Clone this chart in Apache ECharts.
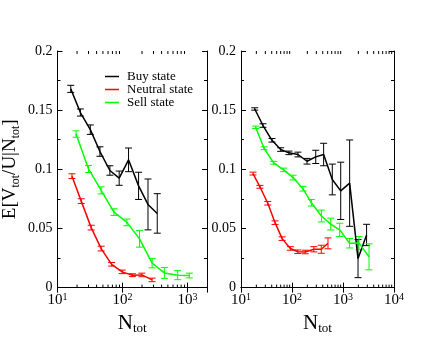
<!DOCTYPE html>
<html>
<head>
<meta charset="utf-8">
<script src="https://cdn.jsdelivr.net/npm/echarts@6/dist/echarts.min.js"></script>
<style>
  html, body { margin: 0; padding: 0; background: #fff; }
  #grafico { width: 440px; height: 340px; }
</style>
</head>
<body>
<div id="grafico"></div>
<script>
// Datos (N_tot, valor, error)
// Panel izquierdo
const buyL_x = [16, 22.5, 32, 45, 64, 89, 124, 177, 247, 343];
const buyL_y = [0.168, 0.148, 0.1335, 0.115, 0.099, 0.0925, 0.108, 0.086, 0.0703, 0.0627];
const buyL_err = [0.003, 0.003, 0.004, 0.004, 0.004, 0.006, 0.01, 0.0115, 0.0215, 0.0167];

const neutralL_x = [16.7, 23.2, 33, 47, 68, 99, 142, 199, 286];
const neutralL_y = [0.0942, 0.0731, 0.0507, 0.033, 0.0197, 0.0133, 0.0105, 0.0107, 0.0065];
const neutralL_err = [0.002, 0.002, 0.002, 0.002, 0.0015, 0.0015, 0.0012, 0.0015, 0.0015];

const sellL_x = [19.3, 30, 47, 74, 117, 183, 286, 442, 708, 1070];
const sellL_y = [0.1298, 0.1003, 0.0822, 0.0638, 0.0551, 0.0412, 0.0207, 0.0124, 0.0105, 0.0102];
const sellL_err = [0.0027, 0.003, 0.003, 0.0028, 0.0028, 0.007, 0.004, 0.0046, 0.0038, 0.002];

// Panel derecho
const buyR_x = [18.6, 27, 40.5, 60, 87, 131, 197, 292, 417, 617, 902, 1350, 1970, 2900];
const buyR_y = [0.151, 0.137, 0.1245, 0.1167, 0.1139, 0.1125, 0.1068, 0.1105, 0.1125, 0.0914, 0.0818, 0.0883, 0.0245, 0.0445];
const buyR_err = [0.001, 0.0015, 0.0015, 0.0015, 0.0015, 0.002, 0.0024, 0.0056, 0.0095, 0.013, 0.0242, 0.0365, 0.0161, 0.009];

const neutralR_x = [17.2, 23.5, 33.5, 46.5, 64, 93, 130, 182, 268, 375, 508];
const neutralR_y = [0.0964, 0.0852, 0.0713, 0.0549, 0.0414, 0.0331, 0.0303, 0.0301, 0.0324, 0.0324, 0.0374];
const neutralR_err = [0.0012, 0.0012, 0.0015, 0.0015, 0.0015, 0.0015, 0.0015, 0.0015, 0.0022, 0.0034, 0.0046];

const sellR_x = [19.4, 28.3, 43.7, 68.7, 105, 164, 240, 377, 575, 861, 1350, 2060, 3240];
const sellR_y = [0.1355, 0.1178, 0.1055, 0.0995, 0.093, 0.0836, 0.0717, 0.0605, 0.0537, 0.0488, 0.0375, 0.0376, 0.026];
const sellR_err = [0.001, 0.0012, 0.0012, 0.0015, 0.002, 0.002, 0.0028, 0.005, 0.005, 0.0056, 0.004, 0.0056, 0.011];

// Marcas menores del eje logarítmico
const minorTicksL = [20, 30, 40, 50, 60, 70, 80, 90, 200, 300, 400, 500, 600, 700, 800, 900];
const minorTicksR = [20, 30, 40, 50, 60, 70, 80, 90, 200, 300, 400, 500, 600, 700, 800, 900,
                     2000, 3000, 4000, 5000, 6000, 7000, 8000, 9000];

const serieNames = ['Buy state', 'Neutral state', 'Sell state'];
const FONT = 'Liberation Serif';
const BLACK = '#000000', RED = '#ff0000', GREEN = '#00ff00';

const chartDom = document.getElementById('grafico');
const myChart = echarts.init(chartDom);

const zip = (xs, ys) => xs.map((x, i) => [x, ys[i]]);
const zip3 = (xs, ys, es) => xs.map((x, i) => [x, ys[i], es[i]]);

function isPow10(v) {
    const l = Math.log10(v);
    return Math.abs(l - Math.round(l)) < 1e-6;
}

// Eje X inferior (log)
function xBottom(gridIndex, max) {
    return {
        type: 'log', logBase: 10, gridIndex: gridIndex, position: 'bottom',
        min: 10, max: max,
        axisLine: { lineStyle: { color: '#000', width: 1 } },
        axisTick: { inside: true, length: 5, lineStyle: { color: '#000' } },
        splitLine: { show: false },
        axisLabel: {
            margin: 5, color: '#000', fontFamily: FONT, fontSize: 15,
            showMinLabel: true, showMaxLabel: true,
            formatter: v => isPow10(v) ? '10{sup|' + Math.round(Math.log10(v)) + '}' : '',
            rich: { sup: { fontSize: 10, fontFamily: FONT, color: '#000', verticalAlign: 'top', lineHeight: 8 } }
        },
        name: '{b|N}{s|tot}',
        nameLocation: 'middle', nameGap: 21,
        nameTextStyle: {
            rich: {
                b: { fontSize: 21, fontFamily: FONT, color: '#000', lineHeight: 24 },
                s: { fontSize: 13, fontFamily: FONT, color: '#000', verticalAlign: 'bottom', lineHeight: 6 }
            }
        }
    };
}

// Eje X superior (solo marcas)
function xTop(gridIndex, max) {
    return {
        type: 'log', logBase: 10, gridIndex: gridIndex, position: 'top',
        min: 10, max: max,
        axisLine: { lineStyle: { color: '#000', width: 1 } },
        axisTick: { inside: true, length: 5, lineStyle: { color: '#000' } },
        splitLine: { show: false },
        axisLabel: { show: false }
    };
}

function yAxis(gridIndex, position, withLabels, withName) {
    const ax = {
        type: 'value', gridIndex: gridIndex, position: position,
        min: 0, max: 0.2, interval: 0.05,
        axisLine: { show: true, lineStyle: { color: '#000', width: 1 } },
        axisTick: { show: true, inside: true, length: 5, lineStyle: { color: '#000' } },
        minorTick: { show: true, splitNumber: 2, length: 3, lineStyle: { color: '#000' } },
        splitLine: { show: false },
        axisLabel: { show: withLabels, margin: 5, color: '#000', fontFamily: FONT, fontSize: 14 }
    };
    if (withName) {
        ax.name = '{b|E[V}{s|tot}{b|/U|N}{s|tot}{b|]}';
        ax.nameLocation = 'middle';
        ax.nameGap = 36;
        ax.nameRotate = 90;
        ax.nameTextStyle = {
            rich: {
                b: { fontSize: 19, fontFamily: FONT, color: '#000', lineHeight: 22 },
                s: { fontSize: 12, fontFamily: FONT, color: '#000', verticalAlign: 'bottom', lineHeight: 6 }
            }
        };
    }
    return ax;
}

function lineSerie(name, data, color, xi, yi) {
    return {
        type: 'line', name: name, data: data,
        xAxisIndex: xi, yAxisIndex: yi,
        symbol: 'none', smooth: false,
        lineStyle: { color: color, width: 1.5 },
        itemStyle: { color: color },
        z: 3
    };
}

// Barras de error con tapas
function errorSerie(data, color, xi, yi) {
    return {
        type: 'custom', data: data, xAxisIndex: xi, yAxisIndex: yi, silent: true, z: 2,
        renderItem: (params, api) => {
            const x = api.value(0), y = api.value(1), e = api.value(2);
            const hi = api.coord([x, y + e]);
            const lo = api.coord([x, y - e]);
            const w = 3.5;
            const st = { stroke: color, lineWidth: 1 };
            return {
                type: 'group',
                children: [
                    { type: 'line', shape: { x1: hi[0], y1: hi[1], x2: lo[0], y2: lo[1] }, style: st },
                    { type: 'line', shape: { x1: hi[0] - w, y1: hi[1], x2: hi[0] + w, y2: hi[1] }, style: st },
                    { type: 'line', shape: { x1: lo[0] - w, y1: lo[1], x2: lo[0] + w, y2: lo[1] }, style: st }
                ]
            };
        }
    };
}

// Marcas menores en los ejes log (abajo y arriba)
function minorTickSerie(ticks, xi, yi) {
    return {
        type: 'custom', data: ticks.map(v => [v, 0]), xAxisIndex: xi, yAxisIndex: yi, silent: true, z: 5,
        renderItem: (params, api) => {
            const v = api.value(0);
            const b = api.coord([v, 0]);
            const t = api.coord([v, 0.2]);
            const st = { stroke: '#000', lineWidth: 1 };
            return {
                type: 'group',
                children: [
                    { type: 'line', shape: { x1: b[0], y1: b[1], x2: b[0], y2: b[1] - 3 }, style: st },
                    { type: 'line', shape: { x1: t[0], y1: t[1], x2: t[0], y2: t[1] + 3 }, style: st }
                ]
            };
        }
    };
}

const option = {
    animation: false,
    backgroundColor: '#fff',
    textStyle: { fontFamily: FONT },
    grid: [
        { left: 55, top: 51, width: 152, height: 237, containLabel: false },
        { left: 241, top: 51, width: 153, height: 237, containLabel: false }
    ],
    legend: {
        data: serieNames,
        orient: 'vertical',
        left: 105, top: 70,
        padding: 0,
        icon: 'rect',
        itemWidth: 14, itemHeight: 1.5,
        itemGap: 0,
        textStyle: { fontFamily: FONT, fontSize: 13, color: '#000', lineHeight: 12.5, padding: [0, 0, 0, 3] },
        selectedMode: false
    },
    xAxis: [xBottom(0, 2000), xTop(0, 2000), xBottom(1, 10000), xTop(1, 10000)],
    yAxis: [yAxis(0, 'left', true, true), yAxis(0, 'right', false, false),
            yAxis(1, 'left', true, false), yAxis(1, 'right', false, false)],
    series: [
        minorTickSerie(minorTicksL, 0, 0),
        minorTickSerie(minorTicksR, 2, 2),

        errorSerie(zip3(buyL_x, buyL_y, buyL_err), BLACK, 0, 0),
        errorSerie(zip3(neutralL_x, neutralL_y, neutralL_err), RED, 0, 0),
        errorSerie(zip3(sellL_x, sellL_y, sellL_err), GREEN, 0, 0),
        lineSerie(serieNames[0], zip(buyL_x, buyL_y), BLACK, 0, 0),
        lineSerie(serieNames[1], zip(neutralL_x, neutralL_y), RED, 0, 0),
        lineSerie(serieNames[2], zip(sellL_x, sellL_y), GREEN, 0, 0),

        errorSerie(zip3(buyR_x, buyR_y, buyR_err), BLACK, 2, 2),
        errorSerie(zip3(neutralR_x, neutralR_y, neutralR_err), RED, 2, 2),
        errorSerie(zip3(sellR_x, sellR_y, sellR_err), GREEN, 2, 2),
        lineSerie(serieNames[0] + ' ', zip(buyR_x, buyR_y), BLACK, 2, 2),
        lineSerie(serieNames[1] + ' ', zip(neutralR_x, neutralR_y), RED, 2, 2),
        lineSerie(serieNames[2] + ' ', zip(sellR_x, sellR_y), GREEN, 2, 2)
    ]
};

option && myChart.setOption(option);

window.addEventListener('resize', () => {
    myChart.resize();
});
</script>
</body>
</html>
